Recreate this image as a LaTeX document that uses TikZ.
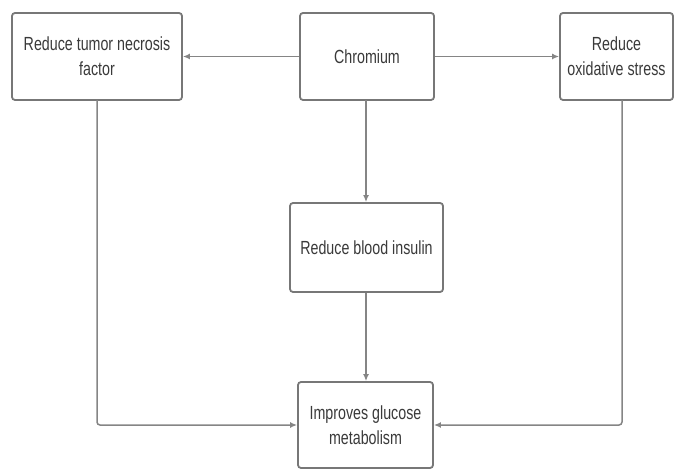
\documentclass[tikz,border=0pt]{standalone}
\usepackage{fontspec}
\setmainfont{Liberation Sans}[FakeStretch=0.75]
\usetikzlibrary{arrows.meta}
\definecolor{boxline}{HTML}{777777}
\definecolor{conn}{HTML}{858585}
\definecolor{txt}{HTML}{3A3A3A}
\tikzset{
  box/.style={draw=boxline, line width=1.8pt, rounded corners=3pt, fill=white,
    inner sep=0pt, align=center, text=txt,
    font=\fontsize{19}{25}\selectfont},
  conn/.style={draw=conn, line width=1.5pt, -{Latex[length=7pt,width=6pt]}}
}
\begin{document}
\begin{tikzpicture}[x=1pt,y=-1pt]
\useasboundingbox (0,0) rectangle (675,470);
\node[box, minimum width=170pt, minimum height=87pt] (tnf) at (97,56.5) {Reduce tumor necrosis\\factor};
\node[box, minimum width=134pt, minimum height=87pt] (cr) at (367,56.5) {Chromium};
\node[box, minimum width=113pt, minimum height=87pt] (ox) at (616.5,56.5) {Reduce\\oxidative stress};
\node[box, minimum width=153pt, minimum height=89pt] (ins) at (366.5,247.5) {Reduce blood insulin};
\node[box, minimum width=135pt, minimum height=86pt] (glu) at (365.5,425) {Improves glucose\\metabolism};
\coordinate (tnfs) at (97,100);
\coordinate (oxs) at (622,100);
\coordinate (crs) at (366,100);
\draw[conn] (cr.west) -- (tnf.east);
\draw[conn] (cr.east) -- (ox.west);
\draw[conn] (crs) -- (crs |- ins.north);
\draw[conn] (ins.south -| crs) -- (crs |- glu.north);
\draw[conn, rounded corners=3pt] (tnfs) |- (glu.west);
\draw[conn, rounded corners=3pt] (oxs) |- (glu.east);
\end{tikzpicture}
\end{document}
